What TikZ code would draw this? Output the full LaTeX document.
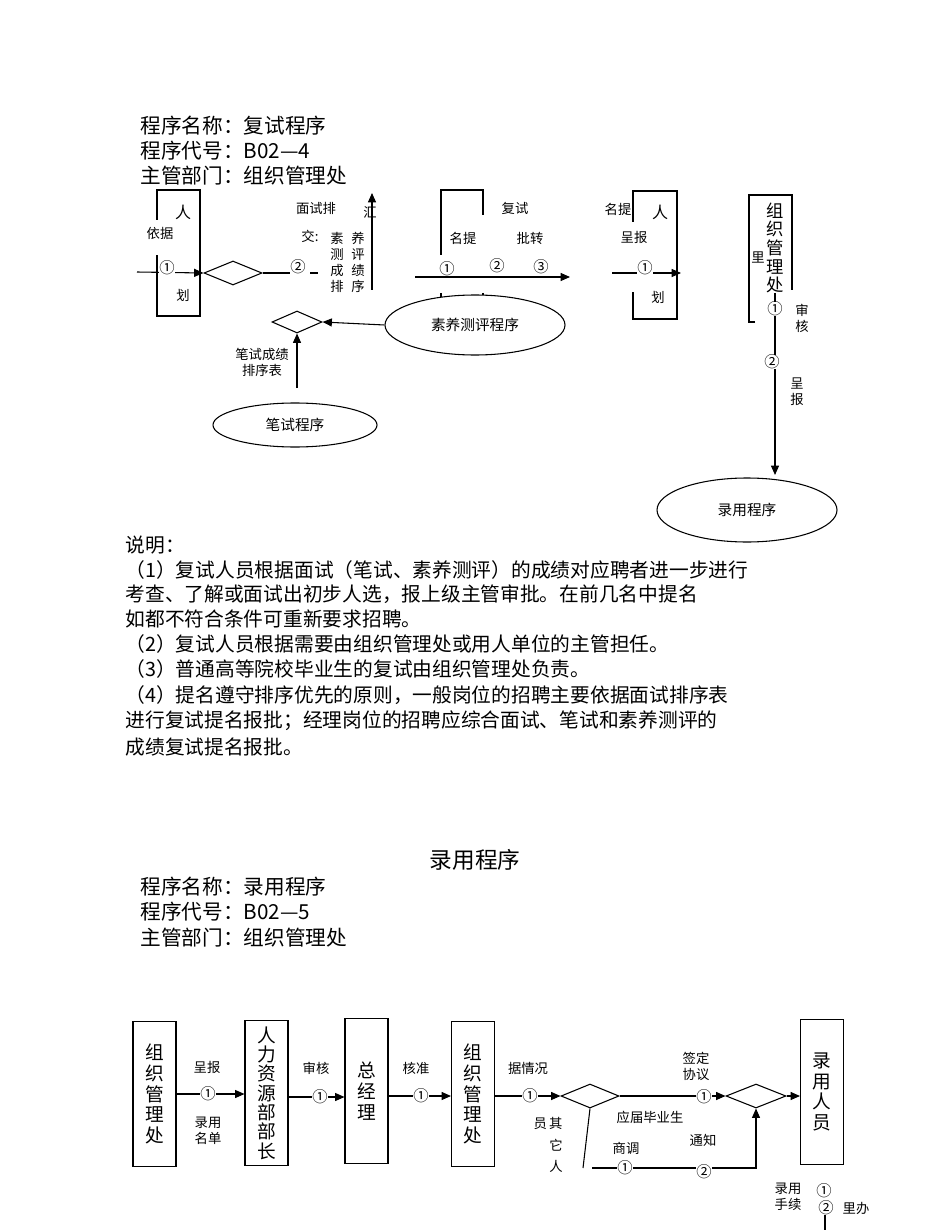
\documentclass[tikz,border=0pt]{standalone}
\usepackage{fontspec}
\setmainfont{Noto Sans CJK SC}
\usetikzlibrary{shapes.geometric,arrows.meta}
\begin{document}
\begin{tikzpicture}[x=0.75pt,y=-0.75pt,line width=0.8pt,
 t/.style={font=\fontsize{10}{12}\selectfont,inner sep=0},
 c/.style={font=\fontsize{11.5}{12}\selectfont,inner sep=0},
 h/.style={font=\fontsize{15.5}{17}\selectfont,inner sep=0,anchor=west},
 b/.style={font=\fontsize{14.8}{17}\selectfont,inner sep=0,anchor=west},
 v/.style={font=\fontsize{13}{14}\selectfont,inner sep=0,align=center},
 dia/.style={diamond,draw,aspect=2.4,inner sep=0},
 ell/.style={ellipse,draw,inner sep=0,font=\fontsize{11}{13}\selectfont},
 ar/.style={-{Triangle[length=7pt,width=6pt]}}]
\useasboundingbox (0,0) rectangle (950,1230);
% header
\node[h] (h1) at (140,126) {程序名称：复试程序};
\node[h] (h2) at (140,151) {程序代号：B02—4};
\node[h] (h3) at (140,176) {主管部门：组织管理处};
% box1
\draw (157,220)--(157,190)--(200,190)--(200,316)--(157,316)--(157,255);
\node[t,font=\fontsize{12}{14}\selectfont] (r1) at (183,212) {人};
\node[t] (r2) at (160,233) {依据};
\node[t] (r3) at (183,295) {划};
\coordinate (a0) at (137,272);
\node[dia,minimum width=58pt*0.75,minimum height=24pt*0.75] (d1) at (233,273) {};
\draw[ar] (a0)--(d1.west);
\node[c,fill=white] (c1) at (167,268) {①};
\draw (d1.east)--(290,273);
\node[c] (c2) at (298,267) {②};
\draw (310,273)--(318,273);
\node[t] (m1) at (316,208) {面试排};
\node[t] (m2) at (370,212) {汇};
\node[t] (m3) at (310,236) {交:};
\node[t,align=center] (m4) at (337,262) {素\\测\\成\\排};
\node[t,align=center] (m5) at (358,262) {养\\评\\绩\\序};
\coordinate (u1) at (372,290); \coordinate (u2) at (372,193);
\draw[ar] (u1)--(u2);
% box2
\draw (441,255)--(441,190)--(483,190)--(483,215);
\draw (441,293)--(441,300) (483,293)--(483,300);
\node[t] (f1) at (515,208) {复试};
\node[t] (f2) at (463,238) {名提};
\node[t] (f3) at (530,238) {批转};
\coordinate (b0) at (415,277); \coordinate (b1) at (570,277);
\draw[ar] (b0)--(b1);
\node[c,fill=white] (f4) at (447,269) {①};
\node[c,fill=white] (f5) at (497,266) {②};
\node[c,fill=white] (f6) at (541,267) {③};
\node[ell,minimum width=180pt*0.75,minimum height=60pt*0.75,fill=white] (e1) at (475,325) {素养测评程序};
\node[dia,minimum width=50pt*0.75,minimum height=22pt*0.75] (d2) at (297,322) {};
\draw[ar] (e1.west)--(d2.east);
\node[t,align=center] (p1) at (262,362) {笔试成绩\\排序表};
\coordinate (p0) at (297,388);
\draw[ar] (p0)--(d2.south);
\node[ell,minimum width=164pt*0.75,minimum height=44pt*0.75] (e2) at (295,425) {笔试程序};
% box3
\draw (633,222)--(633,191)--(677,191)--(677,319)--(633,319)--(633,292);
\node[t] (g1) at (618,209) {名提};
\node[t,font=\fontsize{12}{14}\selectfont] (g2) at (660,212) {人};
\node[t] (g3) at (634,237) {呈报};
\node[t] (g4) at (658,297) {划};
\coordinate (g0) at (612,273); \coordinate (g5) at (681,273);
\draw[ar] (g0)--(g5);
\node[c,fill=white] (g6) at (645,268) {①};
% box4
\draw (755,322)--(749,322)--(749,195)--(792,195)--(792,290);
\node[v] (k1) at (775,248) {组\\织\\管\\理\\处};
\node[t] (k2) at (758,258) {里};
\coordinate (k0) at (775,293); \coordinate (k3) at (775,475);
\draw[ar] (k0)--(k3);
\node[c,fill=white] (k4) at (775,309) {①};
\node[t,align=center] (k5) at (802,318) {审\\核};
\node[c,fill=white] (k6) at (772,362) {②};
\node[t,align=center,fill=white] (k7) at (797,392) {呈\\报};
\node[ell,minimum width=180pt*0.75,minimum height=64pt*0.75] (e3) at (747,510) {录用程序};
% notes
\node[b] (n0) at (125,545) {说明：};
\node[b] (n1) at (125,570) {（1）复试人员根据面试（笔试、素养测评）的成绩对应聘者进一步进行};
\node[b] (n2) at (125,594) {考查、了解或面试出初步人选，报上级主管审批。在前几名中提名};
\node[b] (n3) at (125,619) {如都不符合条件可重新要求招聘。};
\node[b] (n4) at (125,644) {（2）复试人员根据需要由组织管理处或用人单位的主管担任。};
\node[b] (n5) at (125,669) {（3）普通高等院校毕业生的复试由组织管理处负责。};
\node[b] (n6) at (125,695) {（4）提名遵守排序优先的原则，一般岗位的招聘主要依据面试排序表};
\node[b] (n7) at (125,721) {进行复试提名报批；经理岗位的招聘应综合面试、笔试和素养测评的};
\node[b] (n8) at (125,747) {成绩复试提名报批。};
% second title
\node[inner sep=0,font=\fontsize{17}{19}\selectfont] (tt) at (475,860) {录用程序};
\node[h] (q1) at (140,887) {程序名称：录用程序};
\node[h] (q2) at (140,912) {程序代号：B02—5};
\node[h] (q3) at (140,938) {主管部门：组织管理处};
% bottom boxes
\tikzset{bb/.style={draw,inner sep=0,minimum width=43pt*0.75,minimum height=145pt*0.75,align=center,font=\fontsize{14}{15.5}\selectfont}}
\node[bb] (B1) at (154.5,1094) {组\\织\\管\\理\\处};
\node[bb,font=\fontsize{14}{14.5}\selectfont] (B2) at (266.5,1093) {人\\力\\资\\源\\部\\部\\长};
\node[bb] (B3) at (366.5,1091) {总\\经\\理};
\node[bb] (B4) at (473,1094) {组\\织\\管\\理\\处};
\node[bb] (B5) at (822,1092) {录\\用\\人\\员};
\draw[ar] (B1.east|-0,1094)--(B2.west|-0,1094);
\draw[ar] (B2.east|-0,1097)--(B3.west|-0,1097);
\draw[ar] (B3.east|-0,1096)--(B4.west|-0,1096);
\node[c,fill=white] (s1) at (208,1094) {①};
\node[c,fill=white] (s2) at (320,1097) {①};
\node[c,fill=white] (s3) at (421,1096) {①};
\node[t] (l1) at (207,1067) {呈报};
\node[t,align=center] (l2) at (208,1131) {录用\\名单};
\node[t] (l3) at (316,1068) {审核};
\node[t] (l4) at (416,1068) {核准};
\node[dia,minimum width=58pt*0.75,minimum height=24pt*0.75] (D1) at (590,1096) {};
\node[dia,minimum width=60pt*0.75,minimum height=24pt*0.75] (D2) at (756,1096) {};
\draw[ar] (B4.east|-0,1096)--(D1.west);
\node[c,fill=white] (s4) at (530,1096) {①};
\node[t] (l5) at (528,1068) {据情况};
\draw[ar] (D1.east)--(D2.west);
\node[c,fill=white] (s5) at (704,1097) {①};
\node[t,align=center] (l6) at (696,1066) {签定\\协议};
\draw[ar] (D2.east)--(B5.west|-0,1096);
\node[t] (l7) at (650,1117) {应届毕业生};
\coordinate (j1) at (583,1168);
\draw (D1.south)--(j1);
\coordinate (j2) at (592,1168); \coordinate (j3) at (756,1168);
\draw[ar] (j2)--(j3)--(D2.south);
\node[c,fill=white] (s6) at (625,1168) {①};
\node[c,fill=white] (s7) at (704,1172) {②};
\node[t] (l8) at (626,1148) {商调};
\node[t] (l9) at (703,1140) {通知};
\node[t] (l10) at (548,1123) {员\,其};
\node[t] (l11) at (556,1145) {它};
\node[t] (l12) at (556,1166) {人};
\node[t,align=center] (l13) at (788,1197) {录用\\手续};
\node[c] (s8) at (824,1191) {①};
\node[c] (s9) at (826,1208) {②};
\node[t] (l14) at (856,1208) {里办};
\coordinate (z1) at (825,1215); \coordinate (z2) at (825,1230);
\draw (z1)--(z2);
\end{tikzpicture}
\end{document}
